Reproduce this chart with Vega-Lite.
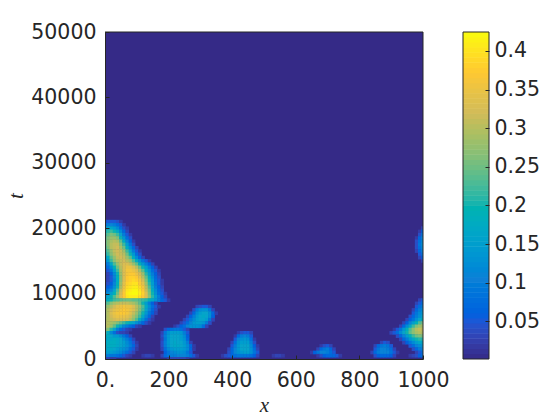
{"$schema":"https://vega.github.io/schema/vega-lite/v6.json","autosize":{"type":"pad"},"padding":{"left":5,"top":22,"right":0,"bottom":0},"background":"white","bounds":"flush","config":{"view":{"stroke":null},"axis":{"grid":false,"domainColor":"#262626","tickColor":"#262626","labelColor":"#262626","titleColor":"#262626","labelFont":"DejaVu Sans","labelFontSize":20.5,"tickSize":-4,"labelPadding":15,"titleFont":"Liberation Serif","titleFontStyle":"italic","titleFontWeight":"normal","titleFontSize":21}},"spacing":40,"resolve":{"scale":{"color":"independent"}},"hconcat":[{"width":318,"height":327,"view":{"fill":"#352A87"},"layer":[{"data":{"values":[
{"x":0,"t":21000,"v":0.04},{"x":10,"t":21000,"v":0.05},{"x":20,"t":21000,"v":0.05},{"x":30,"t":21000,"v":0.05},{"x":40,"t":21000,"v":0.04},{"x":50,"t":21000,"v":0.02},
{"x":0,"t":20500,"v":0.08},{"x":10,"t":20500,"v":0.1},{"x":20,"t":20500,"v":0.11},{"x":30,"t":20500,"v":0.1},{"x":40,"t":20500,"v":0.08},{"x":50,"t":20500,"v":0.05},{"x":60,"t":20500,"v":0.02},
{"x":0,"t":20000,"v":0.12},{"x":10,"t":20000,"v":0.16},{"x":20,"t":20000,"v":0.17},{"x":30,"t":20000,"v":0.15},{"x":40,"t":20000,"v":0.12},{"x":50,"t":20000,"v":0.08},{"x":60,"t":20000,"v":0.04},{"x":70,"t":20000,"v":0.02},
{"x":0,"t":19500,"v":0.17},{"x":10,"t":19500,"v":0.21},{"x":20,"t":19500,"v":0.22},{"x":30,"t":19500,"v":0.2},{"x":40,"t":19500,"v":0.17},{"x":50,"t":19500,"v":0.12},{"x":60,"t":19500,"v":0.07},{"x":70,"t":19500,"v":0.03},
{"x":0,"t":19000,"v":0.2},{"x":10,"t":19000,"v":0.24},{"x":20,"t":19000,"v":0.26},{"x":30,"t":19000,"v":0.25},{"x":40,"t":19000,"v":0.22},{"x":50,"t":19000,"v":0.16},{"x":60,"t":19000,"v":0.1},{"x":70,"t":19000,"v":0.05},{"x":80,"t":19000,"v":0.02},
{"x":0,"t":18500,"v":0.22},{"x":10,"t":18500,"v":0.26},{"x":20,"t":18500,"v":0.28},{"x":30,"t":18500,"v":0.28},{"x":40,"t":18500,"v":0.26},{"x":50,"t":18500,"v":0.2},{"x":60,"t":18500,"v":0.14},{"x":70,"t":18500,"v":0.08},{"x":80,"t":18500,"v":0.04},
{"x":0,"t":18000,"v":0.22},{"x":10,"t":18000,"v":0.27},{"x":20,"t":18000,"v":0.29},{"x":30,"t":18000,"v":0.3},{"x":40,"t":18000,"v":0.29},{"x":50,"t":18000,"v":0.24},{"x":60,"t":18000,"v":0.18},{"x":70,"t":18000,"v":0.11},{"x":80,"t":18000,"v":0.06},{"x":90,"t":18000,"v":0.02},
{"x":0,"t":17500,"v":0.22},{"x":10,"t":17500,"v":0.27},{"x":20,"t":17500,"v":0.3},{"x":30,"t":17500,"v":0.31},{"x":40,"t":17500,"v":0.31},{"x":50,"t":17500,"v":0.27},{"x":60,"t":17500,"v":0.22},{"x":70,"t":17500,"v":0.15},{"x":80,"t":17500,"v":0.09},{"x":90,"t":17500,"v":0.04},
{"x":0,"t":17000,"v":0.2},{"x":10,"t":17000,"v":0.26},{"x":20,"t":17000,"v":0.3},{"x":30,"t":17000,"v":0.31},{"x":40,"t":17000,"v":0.32},{"x":50,"t":17000,"v":0.29},{"x":60,"t":17000,"v":0.25},{"x":70,"t":17000,"v":0.18},{"x":80,"t":17000,"v":0.12},{"x":90,"t":17000,"v":0.07},{"x":100,"t":17000,"v":0.03},
{"x":0,"t":16500,"v":0.18},{"x":10,"t":16500,"v":0.24},{"x":20,"t":16500,"v":0.28},{"x":30,"t":16500,"v":0.31},{"x":40,"t":16500,"v":0.32},{"x":50,"t":16500,"v":0.31},{"x":60,"t":16500,"v":0.28},{"x":70,"t":16500,"v":0.22},{"x":80,"t":16500,"v":0.16},{"x":90,"t":16500,"v":0.1},{"x":100,"t":16500,"v":0.05},{"x":110,"t":16500,"v":0.02},
{"x":0,"t":16000,"v":0.15},{"x":10,"t":16000,"v":0.22},{"x":20,"t":16000,"v":0.27},{"x":30,"t":16000,"v":0.3},{"x":40,"t":16000,"v":0.32},{"x":50,"t":16000,"v":0.31},{"x":60,"t":16000,"v":0.3},{"x":70,"t":16000,"v":0.25},{"x":80,"t":16000,"v":0.2},{"x":90,"t":16000,"v":0.14},{"x":100,"t":16000,"v":0.08},{"x":110,"t":16000,"v":0.04},
{"x":0,"t":15500,"v":0.12},{"x":10,"t":15500,"v":0.18},{"x":20,"t":15500,"v":0.24},{"x":30,"t":15500,"v":0.28},{"x":40,"t":15500,"v":0.31},{"x":50,"t":15500,"v":0.32},{"x":60,"t":15500,"v":0.31},{"x":70,"t":15500,"v":0.28},{"x":80,"t":15500,"v":0.24},{"x":90,"t":15500,"v":0.18},{"x":100,"t":15500,"v":0.12},{"x":110,"t":15500,"v":0.07},{"x":120,"t":15500,"v":0.03},
{"x":0,"t":15000,"v":0.1},{"x":10,"t":15000,"v":0.15},{"x":20,"t":15000,"v":0.22},{"x":30,"t":15000,"v":0.27},{"x":40,"t":15000,"v":0.3},{"x":50,"t":15000,"v":0.31},{"x":60,"t":15000,"v":0.32},{"x":70,"t":15000,"v":0.3},{"x":80,"t":15000,"v":0.28},{"x":90,"t":15000,"v":0.23},{"x":100,"t":15000,"v":0.18},{"x":110,"t":15000,"v":0.13},{"x":120,"t":15000,"v":0.09},{"x":130,"t":15000,"v":0.05},{"x":140,"t":15000,"v":0.02},
{"x":0,"t":14500,"v":0.07},{"x":10,"t":14500,"v":0.1},{"x":20,"t":14500,"v":0.17},{"x":30,"t":14500,"v":0.23},{"x":40,"t":14500,"v":0.28},{"x":50,"t":14500,"v":0.31},{"x":60,"t":14500,"v":0.33},{"x":70,"t":14500,"v":0.33},{"x":80,"t":14500,"v":0.31},{"x":90,"t":14500,"v":0.28},{"x":100,"t":14500,"v":0.24},{"x":110,"t":14500,"v":0.19},{"x":120,"t":14500,"v":0.14},{"x":130,"t":14500,"v":0.1},{"x":140,"t":14500,"v":0.06},{"x":150,"t":14500,"v":0.03},
{"x":0,"t":14000,"v":0.05},{"x":10,"t":14000,"v":0.08},{"x":20,"t":14000,"v":0.12},{"x":30,"t":14000,"v":0.19},{"x":40,"t":14000,"v":0.25},{"x":50,"t":14000,"v":0.3},{"x":60,"t":14000,"v":0.33},{"x":70,"t":14000,"v":0.35},{"x":80,"t":14000,"v":0.35},{"x":90,"t":14000,"v":0.33},{"x":100,"t":14000,"v":0.3},{"x":110,"t":14000,"v":0.25},{"x":120,"t":14000,"v":0.2},{"x":130,"t":14000,"v":0.15},{"x":140,"t":14000,"v":0.1},{"x":150,"t":14000,"v":0.06},{"x":160,"t":14000,"v":0.03},
{"x":0,"t":13500,"v":0.03},{"x":10,"t":13500,"v":0.05},{"x":20,"t":13500,"v":0.09},{"x":30,"t":13500,"v":0.15},{"x":40,"t":13500,"v":0.22},{"x":50,"t":13500,"v":0.29},{"x":60,"t":13500,"v":0.33},{"x":70,"t":13500,"v":0.36},{"x":80,"t":13500,"v":0.36},{"x":90,"t":13500,"v":0.35},{"x":100,"t":13500,"v":0.33},{"x":110,"t":13500,"v":0.29},{"x":120,"t":13500,"v":0.24},{"x":130,"t":13500,"v":0.18},{"x":140,"t":13500,"v":0.13},{"x":150,"t":13500,"v":0.08},{"x":160,"t":13500,"v":0.05},{"x":170,"t":13500,"v":0.02},
{"x":0,"t":13000,"v":0.02},{"x":10,"t":13000,"v":0.03},{"x":20,"t":13000,"v":0.06},{"x":30,"t":13000,"v":0.12},{"x":40,"t":13000,"v":0.2},{"x":50,"t":13000,"v":0.28},{"x":60,"t":13000,"v":0.33},{"x":70,"t":13000,"v":0.36},{"x":80,"t":13000,"v":0.37},{"x":90,"t":13000,"v":0.37},{"x":100,"t":13000,"v":0.35},{"x":110,"t":13000,"v":0.32},{"x":120,"t":13000,"v":0.28},{"x":130,"t":13000,"v":0.21},{"x":140,"t":13000,"v":0.15},{"x":150,"t":13000,"v":0.1},{"x":160,"t":13000,"v":0.06},{"x":170,"t":13000,"v":0.03},
{"x":0,"t":12500,"v":0.02},{"x":10,"t":12500,"v":0.03},{"x":20,"t":12500,"v":0.05},{"x":30,"t":12500,"v":0.11},{"x":40,"t":12500,"v":0.19},{"x":50,"t":12500,"v":0.27},{"x":60,"t":12500,"v":0.33},{"x":70,"t":12500,"v":0.37},{"x":80,"t":12500,"v":0.38},{"x":90,"t":12500,"v":0.38},{"x":100,"t":12500,"v":0.37},{"x":110,"t":12500,"v":0.34},{"x":120,"t":12500,"v":0.3},{"x":130,"t":12500,"v":0.24},{"x":140,"t":12500,"v":0.18},{"x":150,"t":12500,"v":0.12},{"x":160,"t":12500,"v":0.07},{"x":170,"t":12500,"v":0.04},
{"x":0,"t":12000,"v":0.02},{"x":10,"t":12000,"v":0.03},{"x":20,"t":12000,"v":0.05},{"x":30,"t":12000,"v":0.1},{"x":40,"t":12000,"v":0.18},{"x":50,"t":12000,"v":0.27},{"x":60,"t":12000,"v":0.33},{"x":70,"t":12000,"v":0.37},{"x":80,"t":12000,"v":0.38},{"x":90,"t":12000,"v":0.39},{"x":100,"t":12000,"v":0.38},{"x":110,"t":12000,"v":0.36},{"x":120,"t":12000,"v":0.32},{"x":130,"t":12000,"v":0.26},{"x":140,"t":12000,"v":0.2},{"x":150,"t":12000,"v":0.14},{"x":160,"t":12000,"v":0.08},{"x":170,"t":12000,"v":0.05},{"x":180,"t":12000,"v":0.02},
{"x":0,"t":11500,"v":0.03},{"x":10,"t":11500,"v":0.04},{"x":20,"t":11500,"v":0.06},{"x":30,"t":11500,"v":0.11},{"x":40,"t":11500,"v":0.19},{"x":50,"t":11500,"v":0.28},{"x":60,"t":11500,"v":0.34},{"x":70,"t":11500,"v":0.38},{"x":80,"t":11500,"v":0.39},{"x":90,"t":11500,"v":0.4},{"x":100,"t":11500,"v":0.4},{"x":110,"t":11500,"v":0.37},{"x":120,"t":11500,"v":0.34},{"x":130,"t":11500,"v":0.28},{"x":140,"t":11500,"v":0.21},{"x":150,"t":11500,"v":0.15},{"x":160,"t":11500,"v":0.09},{"x":170,"t":11500,"v":0.05},{"x":180,"t":11500,"v":0.02},
{"x":0,"t":11000,"v":0.04},{"x":10,"t":11000,"v":0.06},{"x":20,"t":11000,"v":0.08},{"x":30,"t":11000,"v":0.13},{"x":40,"t":11000,"v":0.2},{"x":50,"t":11000,"v":0.29},{"x":60,"t":11000,"v":0.35},{"x":70,"t":11000,"v":0.39},{"x":80,"t":11000,"v":0.4},{"x":90,"t":11000,"v":0.41},{"x":100,"t":11000,"v":0.41},{"x":110,"t":11000,"v":0.39},{"x":120,"t":11000,"v":0.36},{"x":130,"t":11000,"v":0.3},{"x":140,"t":11000,"v":0.23},{"x":150,"t":11000,"v":0.16},{"x":160,"t":11000,"v":0.1},{"x":170,"t":11000,"v":0.06},{"x":180,"t":11000,"v":0.03},
{"x":0,"t":10500,"v":0.07},{"x":10,"t":10500,"v":0.09},{"x":20,"t":10500,"v":0.11},{"x":30,"t":10500,"v":0.16},{"x":40,"t":10500,"v":0.23},{"x":50,"t":10500,"v":0.31},{"x":60,"t":10500,"v":0.36},{"x":70,"t":10500,"v":0.4},{"x":80,"t":10500,"v":0.41},{"x":90,"t":10500,"v":0.42},{"x":100,"t":10500,"v":0.42},{"x":110,"t":10500,"v":0.4},{"x":120,"t":10500,"v":0.37},{"x":130,"t":10500,"v":0.31},{"x":140,"t":10500,"v":0.25},{"x":150,"t":10500,"v":0.18},{"x":160,"t":10500,"v":0.12},{"x":170,"t":10500,"v":0.07},{"x":180,"t":10500,"v":0.04},
{"x":0,"t":10000,"v":0.1},{"x":10,"t":10000,"v":0.12},{"x":20,"t":10000,"v":0.15},{"x":30,"t":10000,"v":0.19},{"x":40,"t":10000,"v":0.25},{"x":50,"t":10000,"v":0.32},{"x":60,"t":10000,"v":0.37},{"x":70,"t":10000,"v":0.41},{"x":80,"t":10000,"v":0.42},{"x":90,"t":10000,"v":0.424},{"x":100,"t":10000,"v":0.424},{"x":110,"t":10000,"v":0.41},{"x":120,"t":10000,"v":0.38},{"x":130,"t":10000,"v":0.33},{"x":140,"t":10000,"v":0.26},{"x":150,"t":10000,"v":0.2},{"x":160,"t":10000,"v":0.13},{"x":170,"t":10000,"v":0.08},{"x":180,"t":10000,"v":0.05},{"x":190,"t":10000,"v":0.02},
{"x":0,"t":9500,"v":0.14},{"x":10,"t":9500,"v":0.16},{"x":20,"t":9500,"v":0.19},{"x":30,"t":9500,"v":0.23},{"x":40,"t":9500,"v":0.28},{"x":50,"t":9500,"v":0.33},{"x":60,"t":9500,"v":0.37},{"x":70,"t":9500,"v":0.4},{"x":80,"t":9500,"v":0.41},{"x":90,"t":9500,"v":0.41},{"x":100,"t":9500,"v":0.41},{"x":110,"t":9500,"v":0.39},{"x":120,"t":9500,"v":0.37},{"x":130,"t":9500,"v":0.33},{"x":140,"t":9500,"v":0.27},{"x":150,"t":9500,"v":0.21},{"x":160,"t":9500,"v":0.15},{"x":170,"t":9500,"v":0.1},{"x":180,"t":9500,"v":0.06},{"x":190,"t":9500,"v":0.03},
{"x":0,"t":9000,"v":0.17},{"x":10,"t":9000,"v":0.18},{"x":20,"t":9000,"v":0.2},{"x":30,"t":9000,"v":0.22},{"x":40,"t":9000,"v":0.23},{"x":50,"t":9000,"v":0.24},{"x":60,"t":9000,"v":0.25},{"x":70,"t":9000,"v":0.25},{"x":80,"t":9000,"v":0.25},{"x":90,"t":9000,"v":0.24},{"x":100,"t":9000,"v":0.24},{"x":110,"t":9000,"v":0.23},{"x":120,"t":9000,"v":0.22},{"x":130,"t":9000,"v":0.21},{"x":140,"t":9000,"v":0.19},{"x":150,"t":9000,"v":0.17},{"x":160,"t":9000,"v":0.14},{"x":170,"t":9000,"v":0.1},{"x":180,"t":9000,"v":0.07},{"x":190,"t":9000,"v":0.05},{"x":200,"t":9000,"v":0.02},
{"x":0,"t":8500,"v":0.22},{"x":10,"t":8500,"v":0.24},{"x":20,"t":8500,"v":0.27},{"x":30,"t":8500,"v":0.29},{"x":40,"t":8500,"v":0.3},{"x":50,"t":8500,"v":0.31},{"x":60,"t":8500,"v":0.31},{"x":70,"t":8500,"v":0.31},{"x":80,"t":8500,"v":0.3},{"x":90,"t":8500,"v":0.29},{"x":100,"t":8500,"v":0.27},{"x":110,"t":8500,"v":0.24},{"x":120,"t":8500,"v":0.2},{"x":130,"t":8500,"v":0.15},{"x":140,"t":8500,"v":0.1},{"x":150,"t":8500,"v":0.06},{"x":160,"t":8500,"v":0.03},
{"x":0,"t":8000,"v":0.25},{"x":10,"t":8000,"v":0.28},{"x":20,"t":8000,"v":0.3},{"x":30,"t":8000,"v":0.32},{"x":40,"t":8000,"v":0.34},{"x":50,"t":8000,"v":0.35},{"x":60,"t":8000,"v":0.36},{"x":70,"t":8000,"v":0.35},{"x":80,"t":8000,"v":0.35},{"x":90,"t":8000,"v":0.33},{"x":100,"t":8000,"v":0.3},{"x":110,"t":8000,"v":0.27},{"x":120,"t":8000,"v":0.23},{"x":130,"t":8000,"v":0.17},{"x":140,"t":8000,"v":0.12},{"x":150,"t":8000,"v":0.08},{"x":160,"t":8000,"v":0.05},{"x":170,"t":8000,"v":0.02},
{"x":0,"t":7500,"v":0.26},{"x":10,"t":7500,"v":0.3},{"x":20,"t":7500,"v":0.32},{"x":30,"t":7500,"v":0.34},{"x":40,"t":7500,"v":0.35},{"x":50,"t":7500,"v":0.36},{"x":60,"t":7500,"v":0.37},{"x":70,"t":7500,"v":0.36},{"x":80,"t":7500,"v":0.35},{"x":90,"t":7500,"v":0.33},{"x":100,"t":7500,"v":0.3},{"x":110,"t":7500,"v":0.26},{"x":120,"t":7500,"v":0.22},{"x":130,"t":7500,"v":0.16},{"x":140,"t":7500,"v":0.11},{"x":150,"t":7500,"v":0.07},{"x":160,"t":7500,"v":0.04},
{"x":0,"t":7000,"v":0.27},{"x":10,"t":7000,"v":0.3},{"x":20,"t":7000,"v":0.33},{"x":30,"t":7000,"v":0.35},{"x":40,"t":7000,"v":0.36},{"x":50,"t":7000,"v":0.37},{"x":60,"t":7000,"v":0.37},{"x":70,"t":7000,"v":0.36},{"x":80,"t":7000,"v":0.34},{"x":90,"t":7000,"v":0.31},{"x":100,"t":7000,"v":0.28},{"x":110,"t":7000,"v":0.24},{"x":120,"t":7000,"v":0.2},{"x":130,"t":7000,"v":0.14},{"x":140,"t":7000,"v":0.09},{"x":150,"t":7000,"v":0.06},{"x":160,"t":7000,"v":0.03},
{"x":0,"t":6500,"v":0.27},{"x":10,"t":6500,"v":0.3},{"x":20,"t":6500,"v":0.32},{"x":30,"t":6500,"v":0.34},{"x":40,"t":6500,"v":0.35},{"x":50,"t":6500,"v":0.35},{"x":60,"t":6500,"v":0.35},{"x":70,"t":6500,"v":0.34},{"x":80,"t":6500,"v":0.32},{"x":90,"t":6500,"v":0.29},{"x":100,"t":6500,"v":0.26},{"x":110,"t":6500,"v":0.22},{"x":120,"t":6500,"v":0.17},{"x":130,"t":6500,"v":0.11},{"x":140,"t":6500,"v":0.07},{"x":150,"t":6500,"v":0.03},
{"x":0,"t":6000,"v":0.28},{"x":10,"t":6000,"v":0.3},{"x":20,"t":6000,"v":0.31},{"x":30,"t":6000,"v":0.32},{"x":40,"t":6000,"v":0.33},{"x":50,"t":6000,"v":0.33},{"x":60,"t":6000,"v":0.33},{"x":70,"t":6000,"v":0.32},{"x":80,"t":6000,"v":0.3},{"x":90,"t":6000,"v":0.27},{"x":100,"t":6000,"v":0.23},{"x":110,"t":6000,"v":0.18},{"x":120,"t":6000,"v":0.13},{"x":130,"t":6000,"v":0.08},{"x":140,"t":6000,"v":0.04},{"x":150,"t":6000,"v":0.02},
{"x":0,"t":5500,"v":0.3},{"x":10,"t":5500,"v":0.3},{"x":20,"t":5500,"v":0.29},{"x":30,"t":5500,"v":0.28},{"x":40,"t":5500,"v":0.26},{"x":50,"t":5500,"v":0.24},{"x":60,"t":5500,"v":0.22},{"x":70,"t":5500,"v":0.2},{"x":80,"t":5500,"v":0.18},{"x":90,"t":5500,"v":0.16},{"x":100,"t":5500,"v":0.13},{"x":110,"t":5500,"v":0.1},{"x":120,"t":5500,"v":0.07},{"x":130,"t":5500,"v":0.04},{"x":140,"t":5500,"v":0.02},
{"x":0,"t":5000,"v":0.31},{"x":10,"t":5000,"v":0.3},{"x":20,"t":5000,"v":0.28},{"x":30,"t":5000,"v":0.24},{"x":40,"t":5000,"v":0.2},{"x":50,"t":5000,"v":0.16},{"x":60,"t":5000,"v":0.12},{"x":70,"t":5000,"v":0.1},{"x":80,"t":5000,"v":0.08},{"x":90,"t":5000,"v":0.06},{"x":100,"t":5000,"v":0.03},{"x":110,"t":5000,"v":0.02},
{"x":0,"t":4500,"v":0.29},{"x":10,"t":4500,"v":0.26},{"x":20,"t":4500,"v":0.21},{"x":30,"t":4500,"v":0.16},{"x":40,"t":4500,"v":0.1},{"x":50,"t":4500,"v":0.07},{"x":60,"t":4500,"v":0.05},{"x":70,"t":4500,"v":0.03},{"x":80,"t":4500,"v":0.02},
{"x":0,"t":4000,"v":0.25},{"x":10,"t":4000,"v":0.18},{"x":20,"t":4000,"v":0.12},{"x":30,"t":4000,"v":0.08},{"x":40,"t":4000,"v":0.04},{"x":50,"t":4000,"v":0.03},{"x":60,"t":4000,"v":0.03},{"x":70,"t":4000,"v":0.02},
{"x":0,"t":3500,"v":0.19},{"x":10,"t":3500,"v":0.18},{"x":20,"t":3500,"v":0.16},{"x":30,"t":3500,"v":0.14},{"x":40,"t":3500,"v":0.14},{"x":50,"t":3500,"v":0.12},{"x":60,"t":3500,"v":0.09},{"x":70,"t":3500,"v":0.06},{"x":80,"t":3500,"v":0.03},
{"x":0,"t":3000,"v":0.15},{"x":10,"t":3000,"v":0.17},{"x":20,"t":3000,"v":0.17},{"x":30,"t":3000,"v":0.18},{"x":40,"t":3000,"v":0.17},{"x":50,"t":3000,"v":0.16},{"x":60,"t":3000,"v":0.13},{"x":70,"t":3000,"v":0.1},{"x":80,"t":3000,"v":0.07},{"x":90,"t":3000,"v":0.03},
{"x":0,"t":2500,"v":0.16},{"x":10,"t":2500,"v":0.18},{"x":20,"t":2500,"v":0.18},{"x":30,"t":2500,"v":0.18},{"x":40,"t":2500,"v":0.17},{"x":50,"t":2500,"v":0.16},{"x":60,"t":2500,"v":0.15},{"x":70,"t":2500,"v":0.12},{"x":80,"t":2500,"v":0.09},{"x":90,"t":2500,"v":0.05},{"x":100,"t":2500,"v":0.02},
{"x":0,"t":2000,"v":0.17},{"x":10,"t":2000,"v":0.18},{"x":20,"t":2000,"v":0.18},{"x":30,"t":2000,"v":0.18},{"x":40,"t":2000,"v":0.17},{"x":50,"t":2000,"v":0.16},{"x":60,"t":2000,"v":0.15},{"x":70,"t":2000,"v":0.13},{"x":80,"t":2000,"v":0.1},{"x":90,"t":2000,"v":0.07},{"x":100,"t":2000,"v":0.03},
{"x":0,"t":1500,"v":0.16},{"x":10,"t":1500,"v":0.17},{"x":20,"t":1500,"v":0.17},{"x":30,"t":1500,"v":0.16},{"x":40,"t":1500,"v":0.15},{"x":50,"t":1500,"v":0.14},{"x":60,"t":1500,"v":0.13},{"x":70,"t":1500,"v":0.11},{"x":80,"t":1500,"v":0.08},{"x":90,"t":1500,"v":0.05},{"x":100,"t":1500,"v":0.02},
{"x":0,"t":1000,"v":0.15},{"x":10,"t":1000,"v":0.15},{"x":20,"t":1000,"v":0.15},{"x":30,"t":1000,"v":0.14},{"x":40,"t":1000,"v":0.13},{"x":50,"t":1000,"v":0.12},{"x":60,"t":1000,"v":0.1},{"x":70,"t":1000,"v":0.08},{"x":80,"t":1000,"v":0.05},{"x":90,"t":1000,"v":0.03},
{"x":0,"t":500,"v":0.1},{"x":10,"t":500,"v":0.1},{"x":20,"t":500,"v":0.09},{"x":30,"t":500,"v":0.09},{"x":40,"t":500,"v":0.08},{"x":50,"t":500,"v":0.07},{"x":60,"t":500,"v":0.05},{"x":70,"t":500,"v":0.03},{"x":80,"t":500,"v":0.02},
{"x":0,"t":0,"v":0.03},{"x":10,"t":0,"v":0.03},{"x":20,"t":0,"v":0.02},{"x":30,"t":0,"v":0.02},
{"x":120,"t":500,"v":0.02},{"x":130,"t":500,"v":0.03},{"x":140,"t":500,"v":0.03},{"x":150,"t":500,"v":0.02},
{"x":530,"t":500,"v":0.02},{"x":540,"t":500,"v":0.03},{"x":550,"t":500,"v":0.03},{"x":560,"t":500,"v":0.02},
{"x":290,"t":8000,"v":0.03},{"x":300,"t":8000,"v":0.04},{"x":310,"t":8000,"v":0.05},{"x":320,"t":8000,"v":0.05},{"x":330,"t":8000,"v":0.03},
{"x":280,"t":7500,"v":0.04},{"x":290,"t":7500,"v":0.09},{"x":300,"t":7500,"v":0.12},{"x":310,"t":7500,"v":0.13},{"x":320,"t":7500,"v":0.13},{"x":330,"t":7500,"v":0.09},{"x":340,"t":7500,"v":0.03},
{"x":270,"t":7000,"v":0.03},{"x":280,"t":7000,"v":0.07},{"x":290,"t":7000,"v":0.12},{"x":300,"t":7000,"v":0.15},{"x":310,"t":7000,"v":0.16},{"x":320,"t":7000,"v":0.16},{"x":330,"t":7000,"v":0.13},{"x":340,"t":7000,"v":0.07},{"x":350,"t":7000,"v":0.02},
{"x":260,"t":6500,"v":0.03},{"x":270,"t":6500,"v":0.06},{"x":280,"t":6500,"v":0.1},{"x":290,"t":6500,"v":0.14},{"x":300,"t":6500,"v":0.16},{"x":310,"t":6500,"v":0.17},{"x":320,"t":6500,"v":0.16},{"x":330,"t":6500,"v":0.13},{"x":340,"t":6500,"v":0.06},
{"x":250,"t":6000,"v":0.03},{"x":260,"t":6000,"v":0.05},{"x":270,"t":6000,"v":0.09},{"x":280,"t":6000,"v":0.12},{"x":290,"t":6000,"v":0.15},{"x":300,"t":6000,"v":0.16},{"x":310,"t":6000,"v":0.16},{"x":320,"t":6000,"v":0.15},{"x":330,"t":6000,"v":0.09},{"x":340,"t":6000,"v":0.03},
{"x":240,"t":5500,"v":0.03},{"x":250,"t":5500,"v":0.05},{"x":260,"t":5500,"v":0.08},{"x":270,"t":5500,"v":0.11},{"x":280,"t":5500,"v":0.14},{"x":290,"t":5500,"v":0.15},{"x":300,"t":5500,"v":0.15},{"x":310,"t":5500,"v":0.14},{"x":320,"t":5500,"v":0.1},{"x":330,"t":5500,"v":0.04},
{"x":220,"t":5000,"v":0.02},{"x":230,"t":5000,"v":0.04},{"x":240,"t":5000,"v":0.06},{"x":250,"t":5000,"v":0.08},{"x":260,"t":5000,"v":0.11},{"x":270,"t":5000,"v":0.13},{"x":280,"t":5000,"v":0.13},{"x":290,"t":5000,"v":0.13},{"x":300,"t":5000,"v":0.12},{"x":310,"t":5000,"v":0.08},{"x":320,"t":5000,"v":0.03},
{"x":190,"t":4500,"v":0.04},{"x":200,"t":4500,"v":0.07},{"x":210,"t":4500,"v":0.08},{"x":220,"t":4500,"v":0.09},{"x":230,"t":4500,"v":0.09},{"x":240,"t":4500,"v":0.08},{"x":250,"t":4500,"v":0.05},{"x":260,"t":4500,"v":0.03},
{"x":180,"t":4000,"v":0.03},{"x":190,"t":4000,"v":0.09},{"x":200,"t":4000,"v":0.13},{"x":210,"t":4000,"v":0.15},{"x":220,"t":4000,"v":0.15},{"x":230,"t":4000,"v":0.15},{"x":240,"t":4000,"v":0.14},{"x":250,"t":4000,"v":0.1},{"x":260,"t":4000,"v":0.05},
{"x":180,"t":3500,"v":0.04},{"x":190,"t":3500,"v":0.1},{"x":200,"t":3500,"v":0.14},{"x":210,"t":3500,"v":0.16},{"x":220,"t":3500,"v":0.16},{"x":230,"t":3500,"v":0.16},{"x":240,"t":3500,"v":0.15},{"x":250,"t":3500,"v":0.12},{"x":260,"t":3500,"v":0.06},
{"x":180,"t":3000,"v":0.03},{"x":190,"t":3000,"v":0.09},{"x":200,"t":3000,"v":0.14},{"x":210,"t":3000,"v":0.16},{"x":220,"t":3000,"v":0.16},{"x":230,"t":3000,"v":0.16},{"x":240,"t":3000,"v":0.15},{"x":250,"t":3000,"v":0.13},{"x":260,"t":3000,"v":0.07},
{"x":180,"t":2500,"v":0.04},{"x":190,"t":2500,"v":0.1},{"x":200,"t":2500,"v":0.14},{"x":210,"t":2500,"v":0.16},{"x":220,"t":2500,"v":0.17},{"x":230,"t":2500,"v":0.16},{"x":240,"t":2500,"v":0.16},{"x":250,"t":2500,"v":0.14},{"x":260,"t":2500,"v":0.1},{"x":270,"t":2500,"v":0.03},
{"x":180,"t":2000,"v":0.04},{"x":190,"t":2000,"v":0.1},{"x":200,"t":2000,"v":0.14},{"x":210,"t":2000,"v":0.16},{"x":220,"t":2000,"v":0.17},{"x":230,"t":2000,"v":0.17},{"x":240,"t":2000,"v":0.16},{"x":250,"t":2000,"v":0.15},{"x":260,"t":2000,"v":0.12},{"x":270,"t":2000,"v":0.07},{"x":280,"t":2000,"v":0.02},
{"x":180,"t":1500,"v":0.03},{"x":190,"t":1500,"v":0.08},{"x":200,"t":1500,"v":0.12},{"x":210,"t":1500,"v":0.14},{"x":220,"t":1500,"v":0.15},{"x":230,"t":1500,"v":0.15},{"x":240,"t":1500,"v":0.15},{"x":250,"t":1500,"v":0.14},{"x":260,"t":1500,"v":0.12},{"x":270,"t":1500,"v":0.07},{"x":280,"t":1500,"v":0.02},
{"x":190,"t":1000,"v":0.06},{"x":200,"t":1000,"v":0.09},{"x":210,"t":1000,"v":0.11},{"x":220,"t":1000,"v":0.12},{"x":230,"t":1000,"v":0.13},{"x":240,"t":1000,"v":0.13},{"x":250,"t":1000,"v":0.12},{"x":260,"t":1000,"v":0.09},{"x":270,"t":1000,"v":0.05},
{"x":180,"t":500,"v":0.03},{"x":190,"t":500,"v":0.07},{"x":200,"t":500,"v":0.09},{"x":210,"t":500,"v":0.1},{"x":220,"t":500,"v":0.1},{"x":230,"t":500,"v":0.11},{"x":240,"t":500,"v":0.11},{"x":250,"t":500,"v":0.11},{"x":260,"t":500,"v":0.1},{"x":270,"t":500,"v":0.08},{"x":280,"t":500,"v":0.05},{"x":290,"t":500,"v":0.02},
{"x":200,"t":0,"v":0.02},{"x":210,"t":0,"v":0.03},{"x":220,"t":0,"v":0.03},{"x":230,"t":0,"v":0.03},{"x":240,"t":0,"v":0.03},{"x":250,"t":0,"v":0.03},{"x":260,"t":0,"v":0.02},
{"x":420,"t":4000,"v":0.02},{"x":430,"t":4000,"v":0.04},{"x":440,"t":4000,"v":0.05},{"x":450,"t":4000,"v":0.05},{"x":460,"t":4000,"v":0.03},
{"x":410,"t":3500,"v":0.02},{"x":420,"t":3500,"v":0.07},{"x":430,"t":3500,"v":0.1},{"x":440,"t":3500,"v":0.11},{"x":450,"t":3500,"v":0.1},{"x":460,"t":3500,"v":0.05},
{"x":410,"t":3000,"v":0.05},{"x":420,"t":3000,"v":0.11},{"x":430,"t":3000,"v":0.13},{"x":440,"t":3000,"v":0.14},{"x":450,"t":3000,"v":0.13},{"x":460,"t":3000,"v":0.08},{"x":470,"t":3000,"v":0.02},
{"x":400,"t":2500,"v":0.03},{"x":410,"t":2500,"v":0.08},{"x":420,"t":2500,"v":0.13},{"x":430,"t":2500,"v":0.15},{"x":440,"t":2500,"v":0.15},{"x":450,"t":2500,"v":0.15},{"x":460,"t":2500,"v":0.1},{"x":470,"t":2500,"v":0.04},
{"x":400,"t":2000,"v":0.05},{"x":410,"t":2000,"v":0.1},{"x":420,"t":2000,"v":0.14},{"x":430,"t":2000,"v":0.16},{"x":440,"t":2000,"v":0.16},{"x":450,"t":2000,"v":0.16},{"x":460,"t":2000,"v":0.12},{"x":470,"t":2000,"v":0.06},{"x":480,"t":2000,"v":0.02},
{"x":390,"t":1500,"v":0.03},{"x":400,"t":1500,"v":0.07},{"x":410,"t":1500,"v":0.11},{"x":420,"t":1500,"v":0.14},{"x":430,"t":1500,"v":0.16},{"x":440,"t":1500,"v":0.16},{"x":450,"t":1500,"v":0.16},{"x":460,"t":1500,"v":0.13},{"x":470,"t":1500,"v":0.08},{"x":480,"t":1500,"v":0.03},
{"x":390,"t":1000,"v":0.04},{"x":400,"t":1000,"v":0.07},{"x":410,"t":1000,"v":0.11},{"x":420,"t":1000,"v":0.13},{"x":430,"t":1000,"v":0.14},{"x":440,"t":1000,"v":0.15},{"x":450,"t":1000,"v":0.15},{"x":460,"t":1000,"v":0.13},{"x":470,"t":1000,"v":0.09},{"x":480,"t":1000,"v":0.05},
{"x":370,"t":500,"v":0.02},{"x":380,"t":500,"v":0.04},{"x":390,"t":500,"v":0.05},{"x":400,"t":500,"v":0.07},{"x":410,"t":500,"v":0.08},{"x":420,"t":500,"v":0.09},{"x":430,"t":500,"v":0.09},{"x":440,"t":500,"v":0.09},{"x":450,"t":500,"v":0.09},{"x":460,"t":500,"v":0.08},{"x":470,"t":500,"v":0.06},{"x":480,"t":500,"v":0.03},
{"x":680,"t":2000,"v":0.02},{"x":690,"t":2000,"v":0.04},{"x":700,"t":2000,"v":0.05},{"x":710,"t":2000,"v":0.03},
{"x":670,"t":1500,"v":0.03},{"x":680,"t":1500,"v":0.07},{"x":690,"t":1500,"v":0.09},{"x":700,"t":1500,"v":0.1},{"x":710,"t":1500,"v":0.07},{"x":720,"t":1500,"v":0.03},
{"x":650,"t":1000,"v":0.02},{"x":660,"t":1000,"v":0.06},{"x":670,"t":1000,"v":0.09},{"x":680,"t":1000,"v":0.11},{"x":690,"t":1000,"v":0.11},{"x":700,"t":1000,"v":0.1},{"x":710,"t":1000,"v":0.08},{"x":720,"t":1000,"v":0.05},
{"x":670,"t":500,"v":0.02},{"x":680,"t":500,"v":0.04},{"x":690,"t":500,"v":0.06},{"x":700,"t":500,"v":0.07},{"x":710,"t":500,"v":0.07},{"x":720,"t":500,"v":0.07},{"x":730,"t":500,"v":0.05},{"x":740,"t":500,"v":0.02},
{"x":870,"t":2500,"v":0.03},{"x":880,"t":2500,"v":0.05},{"x":890,"t":2500,"v":0.04},
{"x":850,"t":2000,"v":0.03},{"x":860,"t":2000,"v":0.07},{"x":870,"t":2000,"v":0.09},{"x":880,"t":2000,"v":0.1},{"x":890,"t":2000,"v":0.09},{"x":900,"t":2000,"v":0.05},
{"x":850,"t":1500,"v":0.05},{"x":860,"t":1500,"v":0.09},{"x":870,"t":1500,"v":0.11},{"x":880,"t":1500,"v":0.11},{"x":890,"t":1500,"v":0.1},{"x":900,"t":1500,"v":0.08},{"x":910,"t":1500,"v":0.03},
{"x":840,"t":1000,"v":0.03},{"x":850,"t":1000,"v":0.07},{"x":860,"t":1000,"v":0.1},{"x":870,"t":1000,"v":0.11},{"x":880,"t":1000,"v":0.11},{"x":890,"t":1000,"v":0.11},{"x":900,"t":1000,"v":0.09},{"x":910,"t":1000,"v":0.05},{"x":920,"t":1000,"v":0.02},
{"x":850,"t":500,"v":0.04},{"x":860,"t":500,"v":0.06},{"x":870,"t":500,"v":0.07},{"x":880,"t":500,"v":0.07},{"x":890,"t":500,"v":0.07},{"x":900,"t":500,"v":0.06},{"x":910,"t":500,"v":0.03},
{"x":990,"t":9000,"v":0.03},{"x":1000,"t":9000,"v":0.05},
{"x":980,"t":8500,"v":0.03},{"x":990,"t":8500,"v":0.05},{"x":1000,"t":8500,"v":0.08},
{"x":980,"t":8000,"v":0.05},{"x":990,"t":8000,"v":0.08},{"x":1000,"t":8000,"v":0.1},
{"x":970,"t":7500,"v":0.03},{"x":980,"t":7500,"v":0.07},{"x":990,"t":7500,"v":0.1},{"x":1000,"t":7500,"v":0.12},
{"x":970,"t":7000,"v":0.05},{"x":980,"t":7000,"v":0.09},{"x":990,"t":7000,"v":0.12},{"x":1000,"t":7000,"v":0.14},
{"x":960,"t":6500,"v":0.04},{"x":970,"t":6500,"v":0.07},{"x":980,"t":6500,"v":0.1},{"x":990,"t":6500,"v":0.13},{"x":1000,"t":6500,"v":0.16},
{"x":950,"t":6000,"v":0.03},{"x":960,"t":6000,"v":0.06},{"x":970,"t":6000,"v":0.09},{"x":980,"t":6000,"v":0.13},{"x":990,"t":6000,"v":0.16},{"x":1000,"t":6000,"v":0.19},
{"x":940,"t":5500,"v":0.03},{"x":950,"t":5500,"v":0.06},{"x":960,"t":5500,"v":0.11},{"x":970,"t":5500,"v":0.15},{"x":980,"t":5500,"v":0.19},{"x":990,"t":5500,"v":0.23},{"x":1000,"t":5500,"v":0.25},
{"x":930,"t":5000,"v":0.03},{"x":940,"t":5000,"v":0.07},{"x":950,"t":5000,"v":0.12},{"x":960,"t":5000,"v":0.17},{"x":970,"t":5000,"v":0.22},{"x":980,"t":5000,"v":0.26},{"x":990,"t":5000,"v":0.28},{"x":1000,"t":5000,"v":0.29},
{"x":910,"t":4500,"v":0.02},{"x":920,"t":4500,"v":0.05},{"x":930,"t":4500,"v":0.09},{"x":940,"t":4500,"v":0.14},{"x":950,"t":4500,"v":0.19},{"x":960,"t":4500,"v":0.23},{"x":970,"t":4500,"v":0.27},{"x":980,"t":4500,"v":0.3},{"x":990,"t":4500,"v":0.31},{"x":1000,"t":4500,"v":0.31},
{"x":900,"t":4000,"v":0.03},{"x":910,"t":4000,"v":0.05},{"x":920,"t":4000,"v":0.08},{"x":930,"t":4000,"v":0.12},{"x":940,"t":4000,"v":0.16},{"x":950,"t":4000,"v":0.2},{"x":960,"t":4000,"v":0.24},{"x":970,"t":4000,"v":0.27},{"x":980,"t":4000,"v":0.29},{"x":990,"t":4000,"v":0.3},{"x":1000,"t":4000,"v":0.3},
{"x":920,"t":3500,"v":0.04},{"x":930,"t":3500,"v":0.07},{"x":940,"t":3500,"v":0.11},{"x":950,"t":3500,"v":0.15},{"x":960,"t":3500,"v":0.19},{"x":970,"t":3500,"v":0.22},{"x":980,"t":3500,"v":0.25},{"x":990,"t":3500,"v":0.26},{"x":1000,"t":3500,"v":0.26},
{"x":930,"t":3000,"v":0.03},{"x":940,"t":3000,"v":0.07},{"x":950,"t":3000,"v":0.1},{"x":960,"t":3000,"v":0.14},{"x":970,"t":3000,"v":0.17},{"x":980,"t":3000,"v":0.2},{"x":990,"t":3000,"v":0.21},{"x":1000,"t":3000,"v":0.21},
{"x":940,"t":2500,"v":0.03},{"x":950,"t":2500,"v":0.06},{"x":960,"t":2500,"v":0.09},{"x":970,"t":2500,"v":0.12},{"x":980,"t":2500,"v":0.15},{"x":990,"t":2500,"v":0.17},{"x":1000,"t":2500,"v":0.17},
{"x":960,"t":2000,"v":0.05},{"x":970,"t":2000,"v":0.08},{"x":980,"t":2000,"v":0.11},{"x":990,"t":2000,"v":0.13},{"x":1000,"t":2000,"v":0.14},
{"x":970,"t":1500,"v":0.04},{"x":980,"t":1500,"v":0.07},{"x":990,"t":1500,"v":0.1},{"x":1000,"t":1500,"v":0.11},
{"x":980,"t":1000,"v":0.03},{"x":990,"t":1000,"v":0.05},{"x":1000,"t":1000,"v":0.08},
{"x":960,"t":500,"v":0.02},{"x":970,"t":500,"v":0.03},{"x":980,"t":500,"v":0.04},{"x":990,"t":500,"v":0.06},{"x":1000,"t":500,"v":0.08},
{"x":1000,"t":20000,"v":0.03},
{"x":990,"t":19500,"v":0.02},{"x":1000,"t":19500,"v":0.06},
{"x":990,"t":19000,"v":0.04},{"x":1000,"t":19000,"v":0.09},
{"x":980,"t":18500,"v":0.02},{"x":990,"t":18500,"v":0.07},{"x":1000,"t":18500,"v":0.11},
{"x":980,"t":18000,"v":0.04},{"x":990,"t":18000,"v":0.08},{"x":1000,"t":18000,"v":0.12},
{"x":980,"t":17500,"v":0.04},{"x":990,"t":17500,"v":0.09},{"x":1000,"t":17500,"v":0.13},
{"x":980,"t":17000,"v":0.04},{"x":990,"t":17000,"v":0.08},{"x":1000,"t":17000,"v":0.12},
{"x":980,"t":16500,"v":0.03},{"x":990,"t":16500,"v":0.07},{"x":1000,"t":16500,"v":0.11},
{"x":990,"t":16000,"v":0.05},{"x":1000,"t":16000,"v":0.09},
{"x":990,"t":15500,"v":0.03},{"x":1000,"t":15500,"v":0.06},
{"x":1000,"t":15000,"v":0.03}
]},"mark":{"type":"rect","width":3.6,"height":3.7,"clip":true},"encoding":{"x":{"field":"x","type":"quantitative","scale":{"domain":[0,1000],"nice":false},"axis":{"values":[0,200,400,600,800,1000],"labelExpr":"datum.value==0?'0.':format(datum.value,'d')","title":"x","titlePadding":4,"labelFlush":false,"zindex":1},"title":"x"},"y":{"field":"t","type":"quantitative","scale":{"domain":[0,50000],"nice":false},"axis":{"values":[0,10000,20000,30000,40000,50000],"format":"d","title":"t","titlePadding":4,"labelFlush":false,"labelPadding":13,"zindex":1},"title":"t"},"color":{"field":"v","type":"quantitative","legend":null,"scale":{"domain":[0.0012,0.0541,0.1071,0.16,0.2129,0.2658,0.3188,0.3717,0.4246],"range":["#352a87","#0f5cdd","#1481d6","#06a4ca","#2eb7a4","#87bf77","#d1bb59","#fec832","#f9fb0e"]}}}},
{"data":{"values":[{"edge":1000}]},"mark":{"type":"rule","color":"#262626","strokeWidth":1},"encoding":{"x":{"field":"edge","type":"quantitative"}}},
{"data":{"values":[{"edge":50000}]},"mark":{"type":"rule","color":"#262626","strokeWidth":1},"encoding":{"y":{"field":"edge","type":"quantitative"}}}
]},
{"width":26,"height":327,"layer":[{"data":{"values":[{"v":0.0045},{"v":0.0111},{"v":0.0177},{"v":0.0243},{"v":0.031},{"v":0.0376},{"v":0.0442},{"v":0.0508},{"v":0.0574},{"v":0.064},{"v":0.0707},{"v":0.0773},{"v":0.0839},{"v":0.0905},{"v":0.0971},{"v":0.1037},{"v":0.1104},{"v":0.117},{"v":0.1236},{"v":0.1302},{"v":0.1368},{"v":0.1434},{"v":0.1501},{"v":0.1567},{"v":0.1633},{"v":0.1699},{"v":0.1765},{"v":0.1831},{"v":0.1898},{"v":0.1964},{"v":0.203},{"v":0.2096},{"v":0.2162},{"v":0.2228},{"v":0.2295},{"v":0.2361},{"v":0.2427},{"v":0.2493},{"v":0.2559},{"v":0.2625},{"v":0.2692},{"v":0.2758},{"v":0.2824},{"v":0.289},{"v":0.2956},{"v":0.3022},{"v":0.3089},{"v":0.3155},{"v":0.3221},{"v":0.3287},{"v":0.3353},{"v":0.3419},{"v":0.3486},{"v":0.3552},{"v":0.3618},{"v":0.3684},{"v":0.375},{"v":0.3816},{"v":0.3883},{"v":0.3949},{"v":0.4015},{"v":0.4081},{"v":0.4147},{"v":0.4213}]},"mark":{"type":"rect","height":5.6,"width":26,"clip":true},"encoding":{"x":{"datum":0.5,"type":"quantitative","scale":{"domain":[0,1]},"axis":null},"y":{"field":"v","type":"quantitative","scale":{"domain":[0.0012,0.4246],"nice":false},"axis":{"orient":"right","values":[0.05,0.1,0.15,0.2,0.25,0.3,0.35,0.4],"labelExpr":"format(datum.value,'.4~f')","labelFlush":false,"title":null,"domain":false,"zindex":1,"labelPadding":9},"title":null},"color":{"field":"v","type":"quantitative","legend":null,"scale":{"domain":[0.0012,0.0541,0.1071,0.16,0.2129,0.2658,0.3188,0.3717,0.4246],"range":["#352a87","#0f5cdd","#1481d6","#06a4ca","#2eb7a4","#87bf77","#d1bb59","#fec832","#f9fb0e"]}}}},
{"data":{"values":[{"e":0},{"e":1}]},"mark":{"type":"rule","color":"#262626","strokeWidth":1},"encoding":{"x":{"field":"e","type":"quantitative","axis":null}}},
{"data":{"values":[{"e":0.0012},{"e":0.4246}]},"mark":{"type":"rule","color":"#262626","strokeWidth":1},"encoding":{"y":{"field":"e","type":"quantitative"}}}
]}
]}
